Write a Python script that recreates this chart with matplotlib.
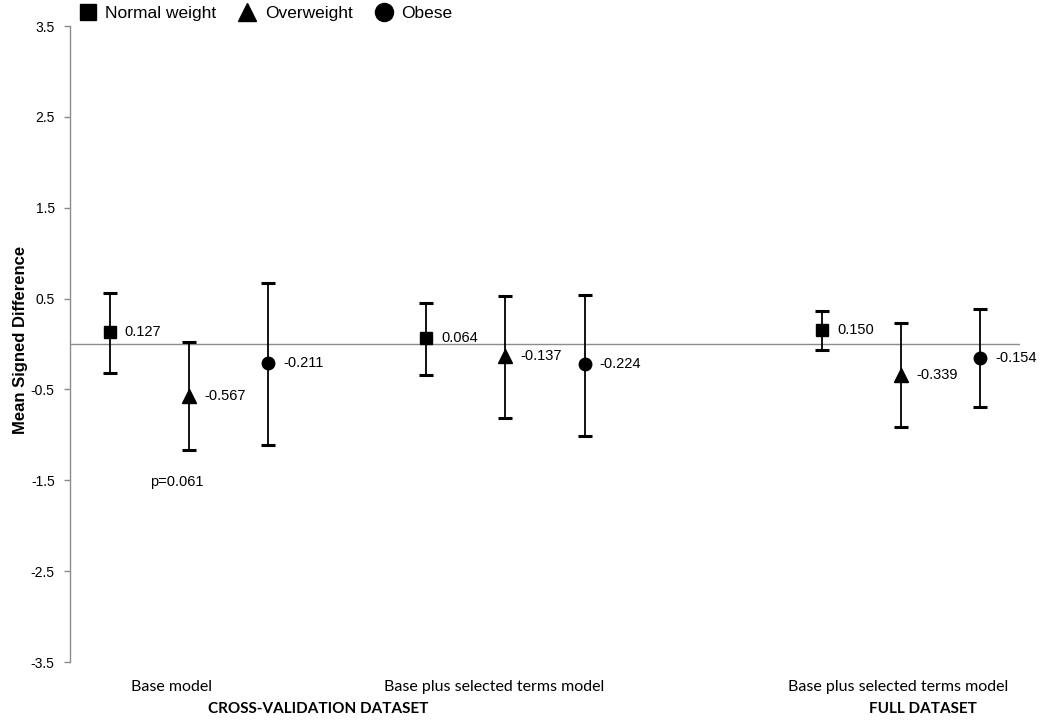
import numpy as np
import matplotlib
matplotlib.use("Agg")
import matplotlib.pyplot as plt
from matplotlib.lines import Line2D
from matplotlib.transforms import blended_transform_factory

plt.rcParams['font.family'] = ['Liberation Sans', 'DejaVu Sans']

# ---- data ----
series = ["Normal weight", "Overweight", "Obese"]
model_labels = ["Base model", "Base plus selected terms model", "Base plus selected terms model"]
dataset_labels = ["CROSS-VALIDATION DATASET", "FULL DATASET"]

normal_mean = [0.127, 0.064, 0.150]
normal_low = [-0.32, -0.34, -0.07]
normal_high = [0.56, 0.45, 0.36]

over_mean = [-0.567, -0.137, -0.339]
over_low = [-1.17, -0.81, -0.91]
over_high = [0.02, 0.53, 0.23]

obese_mean = [-0.211, -0.224, -0.154]
obese_low = [-1.11, -1.01, -0.69]
obese_high = [0.67, 0.54, 0.38]

p_note = "p=0.061"
yticks = [-3.5, -2.5, -1.5, -0.5, 0.5, 1.5, 2.5, 3.5]

# ---- layout ----
W, H = 1050, 725
fig = plt.figure(figsize=(W / 100, H / 100), dpi=100)
ax = fig.add_axes([70 / W, 1 - 662 / H, 950 / W, 636 / H])

group_start = np.array([0, 4, 9])
means = [normal_mean, over_mean, obese_mean]
lows = [normal_low, over_low, obese_low]
highs = [normal_high, over_high, obese_high]
markers = ["s", "^", "o"]
msizes = [9, 9.5, 9]

ax.axhline(0, color="#8c8c8c", lw=1.0, zorder=1)

for i, name in enumerate(series):
    x = group_start + i
    m = np.array(means[i])
    lo = np.array(lows[i])
    hi = np.array(highs[i])
    ax.errorbar(x, m, yerr=[m - lo, hi - m], fmt=markers[i], color="black",
                ms=msizes[i], ecolor="black", elinewidth=1.3, capsize=5,
                capthick=2.2, label=name, zorder=3)
    for xi, mi in zip(x, m):
        ax.annotate(f"{mi:.3f}", (xi, mi), xytext=(11, 0), textcoords="offset points",
                    ha="left", va="center", fontsize=10.5, color="black")

ax.text(0.85, -1.518, p_note, ha="center", va="center", fontsize=10.5)

ax.set_xlim(-0.5, 11.5)
ax.set_ylim(-3.5, 3.5)
ax.set_yticks(yticks)
ax.set_yticklabels([f"{t:.1f}" for t in yticks], fontsize=10)
ax.set_xticks([])
for s in ["top", "right", "bottom"]:
    ax.spines[s].set_visible(False)
ax.spines["left"].set_color("#8c8c8c")
ax.spines["left"].set_linewidth(1.0)
ax.tick_params(axis="y", direction="out", length=4, width=1, color="#8c8c8c", pad=7)

ax.set_ylabel("Mean Signed Difference", fontsize=12, fontweight="bold")
ax.yaxis.set_label_coords((28 - 70) / 950, (662 - 340) / 636)

# category labels below the axis
tr = blended_transform_factory(ax.transData, fig.transFigure)
model_x = [0.78, 4.86, 9.96]
for xm, lab in zip(model_x, model_labels):
    ax.text(xm, 1 - 687 / H, lab, transform=tr, ha="center", va="center",
            fontsize=11.5, family=["Lato", "DejaVu Sans"])
dataset_x = [2.64, 10.27]
for xd, lab in zip(dataset_x, dataset_labels):
    ax.text(xd, 1 - 709 / H, lab, transform=tr, ha="center", va="center",
            fontsize=11, fontweight="bold", family=["Lato", "DejaVu Sans"])

# legend
handles = [Line2D([], [], marker="s", ls="none", color="black", ms=12),
           Line2D([], [], marker="^", ls="none", color="black", ms=13.5),
           Line2D([], [], marker="o", ls="none", color="black", ms=13)]
fig.legend(handles, series, loc="upper left", bbox_to_anchor=(79 / W, 1 - 6 / H),
           ncol=3, frameon=False, fontsize=12.5, borderpad=0, borderaxespad=0,
           handlelength=1.0, handletextpad=0.5, columnspacing=1.3)

fig.savefig("out.png", dpi=100)
